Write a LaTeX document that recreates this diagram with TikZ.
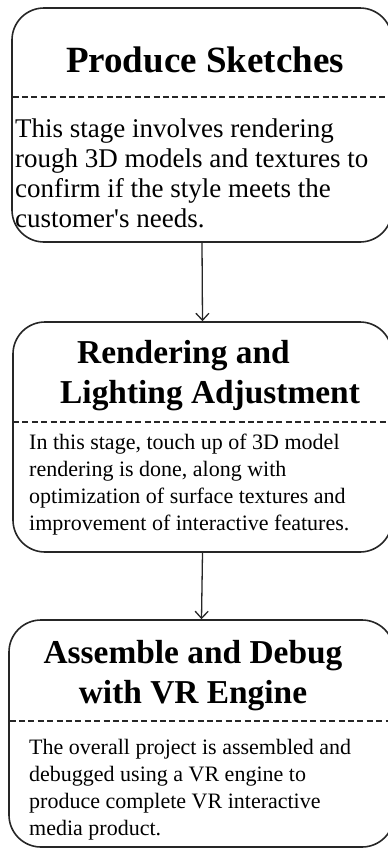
\documentclass[tikz,border=0pt]{standalone}
\usepackage{fontspec}
\setmainfont{Liberation Serif}
\usepackage{tikz}
\usetikzlibrary{arrows.meta,positioning}

\tikzset{
	stagebox/.style={draw=black!85, line width=1.6pt, rounded corners=32pt, inner sep=0pt},
	divider/.style={black!85, line width=1.2pt, dash pattern=on 6pt off 3.4pt},
	titletext/.style={inner sep=0pt, font=\fontsize{33.4pt}{39.5pt}\selectfont\bfseries},
	bodytext/.style={inner sep=0pt, align=left, font=\fontsize{22pt}{26.8pt}\selectfont},
	flow/.style={black!85, line width=1.3pt, -{Straight Barb[length=7pt,width=13pt,line width=1.3pt]}}
}

\begin{document}
\begin{tikzpicture}[x=1pt, y=1pt]
			\useasboundingbox (0,0) rectangle (388,-849);
			% 第一步 (base = last line)
			\node[stagebox, minimum width=380pt, minimum height=234pt] (sketch) at (202,-125) {};
			\draw[divider] (12.5,-97) -- (392,-97);
			\node[titletext, font=\fontsize{37pt}{40pt}\selectfont\bfseries, anchor=base] (sketchtitle) at (205,-72) {Produce Sketches};
			\node[bodytext, font=\fontsize{27pt}{30pt}\selectfont, anchor=base west] (sketchtext) at (15,-227)
				{This stage involves rendering\\rough 3D models and textures to\\confirm if the style meets the\\customer\textquotesingle s needs.};
			% 第二步
			\node[stagebox, minimum width=379pt, minimum height=230pt] (render) at (202.5,-437) {};
			\draw[divider] (13,-422) -- (392,-422);
			\node[titletext, align=left, anchor=base west] (rendertitle) at (60,-403)
				{\hspace*{17pt}Rendering and\\Lighting Adjustment};
			\node[bodytext, anchor=base west] (rendertext) at (29,-530)
				{In this stage, touch up of 3D model\\rendering is done, along with\\optimization of surface textures and\\improvement of interactive features.};
			% 第三步
			\node[stagebox, minimum width=385pt, minimum height=227pt] (engine) at (201.5,-733.5) {};
			\draw[divider] (9.5,-721) -- (393,-721);
			\node[titletext, align=center, anchor=base] (enginetitle) at (193,-703)
				{Assemble and Debug\\with VR Engine};
			\node[bodytext, font=\fontsize{22pt}{27pt}\selectfont, anchor=base west] (enginetext) at (29,-835)
				{The overall project is assembled and\\debugged using a VR engine to\\produce complete VR interactive\\media product.};
			% 箭头
			\draw[flow] (sketch.south) -- (render.north);
			\draw[flow] (render.south) -- (engine.north);
		\end{tikzpicture}
\end{document}
